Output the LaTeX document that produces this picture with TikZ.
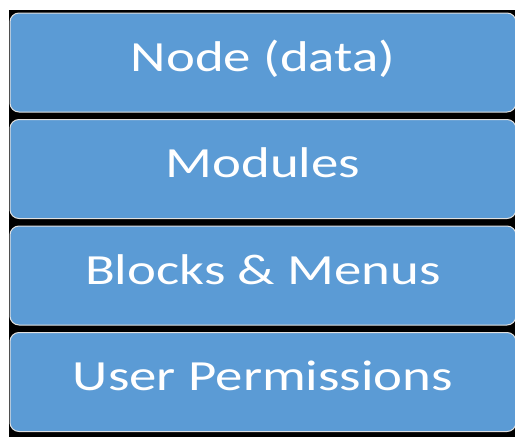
\documentclass[tikz,border=0pt]{standalone}
\usepackage{fontspec}
\setmainfont{Carlito}
\definecolor{layerblue}{HTML}{5B9BD5}
\newcommand{\stretchtext}[1]{\scalebox{1.275}[1]{#1}}
\tikzset{
	layer/.style={draw=white!88!black, line width=1pt, fill=layerblue, rounded corners=9pt,
		minimum width=506pt, minimum height=99pt, inner sep=0pt,
		text height=17.3pt, text depth=0pt,
		text=white, font=\fontsize{43}{43}\selectfont}
}

\begin{document}
\begin{tikzpicture}[x=1pt, y=-1pt]
			%%%%% START %%%%%
			
			\useasboundingbox (0, 0) rectangle (515, 437);
			\clip (0, 0) rectangle (515, 437);
			\fill[white] (0, 0) rectangle (515, 437);
			\fill[black] (9, 10) rectangle (515, 437);
			
			\node[layer] (data) at (263, 62.5) {\stretchtext{Node (data)}};
			\node[layer] (modules) at (263, 169) {\stretchtext{Modules}};
			\node[layer] (blocks) at (263, 275.5) {\stretchtext{Blocks \& Menus}};
			\node[layer] (perms) at (263, 382) {\stretchtext{User Permissions}};
			
			%%%%% END %%%%%
		\end{tikzpicture}
\end{document}
